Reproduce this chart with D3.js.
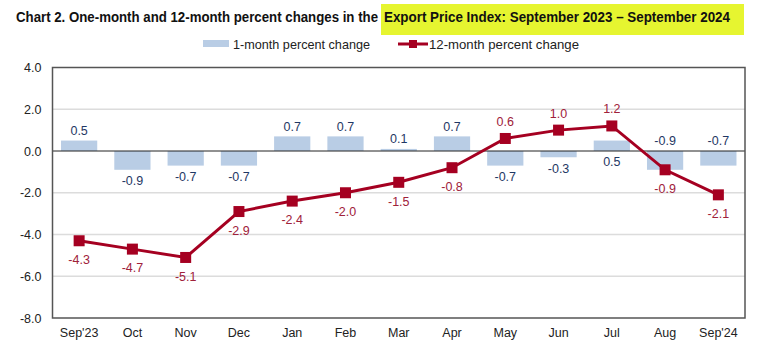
<!DOCTYPE html>
<html>
<head>
<meta charset="utf-8">
<script src="https://cdn.jsdelivr.net/npm/d3@7"></script>
<style>
  body { margin: 0; background: #fff; }
  svg { display: block; font-family: "Liberation Sans", Arial, sans-serif; }
</style>
</head>
<body>
<svg id="chart" width="775" height="362"></svg>
<script>
const months = ["Sep'23", "Oct", "Nov", "Dec", "Jan", "Feb", "Mar", "Apr", "May", "Jun", "Jul", "Aug", "Sep'24"];
const oneMonth = [0.5, -0.9, -0.7, -0.7, 0.7, 0.7, 0.1, 0.7, -0.7, -0.3, 0.5, -0.9, -0.7];
const twelveMonth = [-4.3, -4.7, -5.1, -2.9, -2.4, -2.0, -1.5, -0.8, 0.6, 1.0, 1.2, -0.9, -2.1];
const yTicks = [4, 2, 0, -2, -4, -6, -8];

// label placement, picked to keep labels clear of the line
const barLabelSide = ["up", "down", "down", "down", "up", "up", "up", "up", "down", "down", "down", "up", "up"];
const lineLabelSide = ["down", "down", "down", "down", "down", "down", "down", "down", "up", "up", "up", "down", "down"];

const barColor = "#b9cde5",
  lineColor = "#a50021",
  barText = "#1f3864",
  lineText = "#a0213a";

const fmt = d => d.toFixed(1);

const svg = d3.select("#chart");
const plotLeft = 52.5, plotRight = 745, plotTop = 67.5, plotBottom = 318;

const x = d3.scaleBand().domain(months).range([plotLeft, plotRight]).paddingInner(0.32).paddingOuter(0.16);
const y = d3.scaleLinear().domain([-8, 4]).range([plotBottom, plotTop]);
const cx = d => x(d) + x.bandwidth() / 2;

// title with highlighted part
svg.append("rect")
  .attr("x", 381).attr("y", 4).attr("width", 363).attr("height", 31)
  .attr("fill", "#e6f530");
svg.append("text")
  .attr("x", 16).attr("y", 22)
  .attr("font-size", 14).attr("font-weight", "bold").attr("fill", "#111")
  .attr("textLength", 362).attr("lengthAdjust", "spacingAndGlyphs")
  .text("Chart 2. One-month and 12-month percent changes in the");
svg.append("text")
  .attr("x", 384).attr("y", 22)
  .attr("font-size", 14).attr("font-weight", "bold").attr("fill", "#111")
  .attr("textLength", 346).attr("lengthAdjust", "spacingAndGlyphs")
  .text("Export Price Index: September 2023 \u2013 September 2024");

// legend
const legend = svg.append("g").attr("font-size", 13).attr("fill", "#222");
legend.append("rect").attr("x", 203).attr("y", 40).attr("width", 26).attr("height", 7).attr("fill", barColor);
legend.append("text").attr("x", 233).attr("y", 44).attr("dy", "0.35em")
  .attr("textLength", 137).attr("lengthAdjust", "spacingAndGlyphs")
  .text("1-month percent change");
legend.append("line").attr("x1", 398).attr("x2", 428).attr("y1", 44).attr("y2", 44)
  .attr("stroke", lineColor).attr("stroke-width", 3);
legend.append("rect").attr("x", 409).attr("y", 40).attr("width", 8).attr("height", 8).attr("fill", lineColor);
legend.append("text").attr("x", 429).attr("y", 44).attr("dy", "0.35em")
  .attr("textLength", 150).attr("lengthAdjust", "spacingAndGlyphs")
  .text("12-month percent change");

// gridlines
svg.append("g")
  .selectAll("line")
  .data(yTicks.filter(t => t !== 0 && t !== 4 && t !== -8))
  .join("line")
  .attr("x1", plotLeft).attr("x2", plotRight)
  .attr("y1", d => y(d)).attr("y2", d => y(d))
  .attr("stroke", "#dcdcdc").attr("stroke-width", 1.5);

// bars
svg.append("g")
  .selectAll("rect")
  .data(oneMonth)
  .join("rect")
  .attr("x", (d, i) => x(months[i]))
  .attr("width", x.bandwidth())
  .attr("y", d => y(Math.max(0, d)))
  .attr("height", d => Math.abs(y(d) - y(0)))
  .attr("fill", barColor);

// zero line
svg.append("line")
  .attr("x1", plotLeft).attr("x2", plotRight).attr("y1", y(0)).attr("y2", y(0))
  .attr("stroke", "#222").attr("stroke-width", 1);

// frame
svg.append("rect")
  .attr("x", plotLeft).attr("y", plotTop).attr("width", plotRight - plotLeft).attr("height", plotBottom - plotTop)
  .attr("fill", "none").attr("stroke", "#555").attr("stroke-width", 1.5);

// y axis
const yAxis = svg.append("g")
  .attr("transform", `translate(${plotLeft},0)`)
  .call(d3.axisLeft(y).tickValues(yTicks).tickFormat(fmt).tickSize(0).tickPadding(11));
yAxis.select(".domain").remove();
yAxis.selectAll("text").attr("font-size", 12.5).attr("fill", "#222").attr("font-family", "Liberation Sans, Arial, sans-serif");

// x axis
const xAxis = svg.append("g")
  .attr("transform", `translate(0,${plotBottom})`)
  .call(d3.axisBottom(x).tickSize(0).tickPadding(10));
xAxis.select(".domain").remove();
xAxis.selectAll("text").attr("font-size", 12.5).attr("fill", "#222").attr("font-family", "Liberation Sans, Arial, sans-serif");

// bar labels
svg.append("g")
  .selectAll("text")
  .data(oneMonth)
  .join("text")
  .attr("x", (d, i) => cx(months[i]))
  .attr("y", (d, i) => barLabelSide[i] === "up"
    ? Math.min(y(d), y(0)) - 10
    : Math.max(y(d), y(0)) + 11)
  .attr("dy", "0.35em")
  .attr("text-anchor", "middle")
  .attr("font-size", 12.5)
  .attr("fill", barText)
  .text(fmt);

// 12-month line
const line = d3.line().x((d, i) => cx(months[i])).y(d => y(d));
svg.append("path")
  .datum(twelveMonth)
  .attr("d", line)
  .attr("fill", "none")
  .attr("stroke", lineColor)
  .attr("stroke-width", 3);

svg.append("g")
  .selectAll("rect")
  .data(twelveMonth)
  .join("rect")
  .attr("x", (d, i) => cx(months[i]) - 5.5)
  .attr("y", d => y(d) - 5.5)
  .attr("width", 11).attr("height", 11)
  .attr("fill", lineColor);

svg.append("g")
  .selectAll("text")
  .data(twelveMonth)
  .join("text")
  .attr("x", (d, i) => cx(months[i]))
  .attr("y", (d, i) => lineLabelSide[i] === "up" ? y(d) - 17 : y(d) + 19)
  .attr("dy", "0.35em")
  .attr("text-anchor", "middle")
  .attr("font-size", 12.5)
  .attr("fill", lineText)
  .text(fmt);
</script>
</body>
</html>
